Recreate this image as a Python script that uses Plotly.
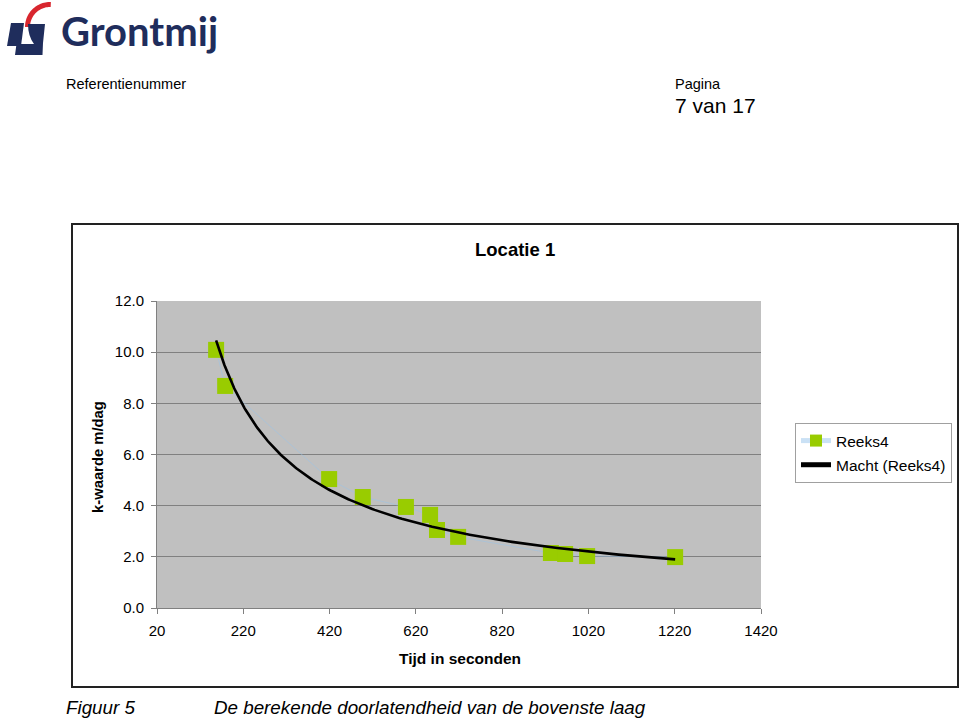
import numpy as np
import plotly.graph_objects as go

# ---- data ----
tijd_s = [157, 178, 419, 497, 597, 653, 669, 718, 933, 966, 1017, 1221]
k_waarde = [10.09, 8.68, 5.04, 4.34, 3.95, 3.64, 3.05, 2.78, 2.15, 2.11, 2.03, 1.99]
x_ticks = [20, 220, 420, 620, 820, 1020, 1220, 1420]
y_ticks = [0, 2, 4, 6, 8, 10, 12]
series_name = "Reeks4"
trend_name = "Macht (Reeks4)"

# power trendline (like Excel): least squares in log-log space
b, ln_a = np.polyfit(np.log(tijd_s), np.log(k_waarde), 1)
x_fit = np.exp(np.linspace(np.log(min(tijd_s)), np.log(max(tijd_s)), 200))
y_fit = np.exp(ln_a) * x_fit ** b

W, H = 960, 720
L, R, T, B = 157, 761, 301, 608
PW, PH = R - L, B - T


def px(x):
    return (x - L) / PW


def py(y):
    return (B - y) / PH


FONT = "Liberation Sans, Arial, sans-serif"

fig = go.Figure()
fig.add_trace(go.Scatter(
    x=tijd_s, y=k_waarde, mode="lines+markers", name=series_name,
    line=dict(color="rgba(150,195,235,0.5)", width=1),
    marker=dict(symbol="square", size=16, color="#99CC00"),
    legendgroup="a",
))
fig.add_trace(go.Scatter(
    x=x_fit, y=y_fit, mode="lines", name=trend_name,
    line=dict(color="black", width=2.6), legendgroup="b",
))

shapes = []
# chart frame
shapes.append(dict(type="rect", xref="paper", yref="paper",
                   x0=px(72), x1=px(958), y0=py(224), y1=py(687),
                   line=dict(color="#222222", width=2), fillcolor="rgba(0,0,0,0)"))

# logo mark
NAVY = "#1F2D5C"
RED = "#D8262E"


def P(x, y):
    return f"{px(x):.5f},{py(y):.5f}"


def path(pts, close=True):
    s = "M " + " L ".join(P(x, y) for x, y in pts)
    return s + (" Z" if close else "")


def arc_pts(cx, cy, r, a0, a1, n=30):
    ang = np.radians(np.linspace(a0, a1, n))
    return [(cx + r * np.cos(a), cy - r * np.sin(a)) for a in ang]


# red arc
outer = arc_pts(50, 27, 25, 88, 180)
inner = arc_pts(50, 27, 20, 180, 88)
shapes.append(dict(type="path", xref="paper", yref="paper", path=path(outer + inner),
                   fillcolor=RED, line=dict(width=0)))
# navy blocks
shapes.append(dict(type="path", xref="paper", yref="paper",
                   path=path([(11, 23), (24, 23), (21, 46), (7, 46)]),
                   fillcolor=NAVY, line=dict(width=0)))
right_block = (f"M {P(28, 24)} L {P(45, 24)} L {P(43, 43)} L {P(42.5, 55)} L {P(15, 55)} "
               f"L {P(16.5, 44)} L {P(34, 44)} Q {P(28, 36)} {P(28, 24)} Z")
shapes.append(dict(type="path", xref="paper", yref="paper", path=right_block,
                   fillcolor=NAVY, line=dict(width=0)))

annotations = []


def text(t, x, y, size, bold=False, italic=False, anchor="left", color="black", angle=0, family=FONT):
    if bold:
        t = f"<b>{t}</b>"
    if italic:
        t = f"<i>{t}</i>"
    annotations.append(dict(text=t, xref="paper", yref="paper", x=px(x), y=py(y),
                            xanchor=anchor, yanchor="middle", showarrow=False,
                            textangle=angle, borderpad=0,
                            font=dict(family=family, size=size, color=color)))


text("Grontmij", 60, 31, 40, bold=True, color=NAVY, family="Lato, Open Sans, sans-serif")
text("Referentienummer", 65, 84, 14.5)
text("Pagina", 674, 84, 14.5)
text("7 van 17", 674, 106, 21)
text("Locatie 1", 515, 250, 18.5, bold=True, anchor="center")
text("Tijd in seconden", 460, 658, 15.5, bold=True, anchor="center")
text("k-waarde m/dag", 98, 457, 14.8, bold=True, anchor="center", angle=-90)
text("Figuur 5", 65, 707, 18.8, italic=True)
text("De berekende doorlatendheid van de bovenste laag", 213, 707, 18.8, italic=True)

fig.update_layout(
    width=W, height=H,
    margin=dict(l=L, r=W - R, t=T, b=H - B, pad=0, autoexpand=False),
    paper_bgcolor="white", plot_bgcolor="#C0C0C0",
    font=dict(family=FONT, size=15, color="black"),
    showlegend=True,
    legend=dict(x=px(795), y=py(423), xanchor="left", yanchor="top",
                bgcolor="white", bordercolor="#A0A0A0", borderwidth=1,
                font=dict(family=FONT, size=15.5, color="black"),
                traceorder="grouped", tracegroupgap=1, itemsizing="constant"),
    shapes=shapes, annotations=annotations,
    xaxis=dict(range=[20, 1420], tickvals=x_ticks, ticktext=[str(v) for v in x_ticks],
               showgrid=False, zeroline=False, showline=True, linecolor="#808080",
               ticks="outside", ticklen=5, tickcolor="#808080", automargin=False,
               ticklabelstandoff=4, tickfont=dict(size=15)),
    yaxis=dict(range=[0, 12], tickvals=y_ticks, tickformat=".1f",
               showgrid=True, gridcolor="#808080", gridwidth=1,
               zeroline=False, showline=True, linecolor="#808080",
               ticks="outside", ticklen=5, tickcolor="#808080", automargin=False,
               ticklabelstandoff=4, tickfont=dict(size=15)),
)

fig.write_html("out.html")
